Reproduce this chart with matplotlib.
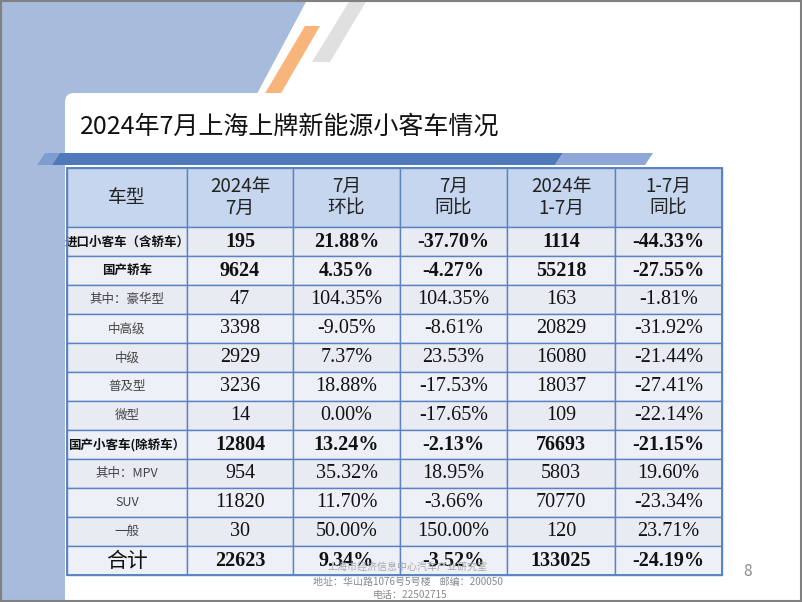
import matplotlib
matplotlib.use("Agg")
import matplotlib.pyplot as plt
from matplotlib.patches import Polygon, Rectangle, FancyBboxPatch

plt.rcParams['font.family'] = ['Noto Sans CJK SC', 'DejaVu Sans']

# table data
title = '2024年7月上海上牌新能源小客车情况'
header = ['车型', '2024年\n7月', '7月\n环比', '7月\n同比', '2024年\n1-7月', '1-7月\n同比']
models = ['进口小客车（含轿车）', '国产轿车', '其中：豪华型', '中高级', '中级', '普及型', '微型',
          '国产小客车(除轿车）', '其中：MPV', 'SUV', '一般', '合计']
jul_2024 = [195, 9624, 47, 3398, 2929, 3236, 14, 12804, 954, 11820, 30, 22623]
jul_mom = [21.88, 4.35, 104.35, -9.05, 7.37, 18.88, 0.00, 13.24, 35.32, 11.70, 50.00, 9.34]
jul_yoy = [-37.70, -4.27, 104.35, -8.61, 23.53, -17.53, -17.65, -2.13, 18.95, -3.66, 150.00, -3.52]
ytd_2024 = [1114, 55218, 163, 20829, 16080, 18037, 109, 76693, 5803, 70770, 120, 133025]
ytd_yoy = [-44.33, -27.55, -1.81, -31.92, -21.44, -27.41, -22.14, -21.15, 19.60, -23.34, 23.71, -24.19]
bold_rows = [0, 1, 7, 11]

footer = ['上海市经济信息中心汽车产业研究室', '地址：华山路1076号5号楼    邮编：200050', '电话：22502715']
page_no = '8'

W, H = 802, 602
fig = plt.figure(figsize=(W / 100, H / 100), dpi=100)
ax = fig.add_axes([0, 0, 1, 1])
ax.set_xlim(0, W)
ax.set_ylim(H, 0)
ax.axis('off')

# slide background decorations
bg_blue = '#A7BBDC'
ax.add_patch(Polygon([(0, 0), (307, 0), (250, 107), (0, 107)], closed=True, fc=bg_blue, ec='none'))
ax.add_patch(Rectangle((0, 0), 65, H, fc=bg_blue, ec='none'))
ax.add_patch(Polygon([(350, 0), (367, 0), (330, 62), (312, 62)], closed=True, fc='#E0E0E0', ec='none'))
ax.add_patch(Polygon([(305, 26), (320, 26), (280, 95), (264, 95)], closed=True, fc='#F8B57B', ec='none'))
ax.add_patch(FancyBboxPatch((65, 93), 800, 600, boxstyle='round,pad=0,rounding_size=9',
                            fc='white', ec='none'))

ax.text(80, 127, title, fontsize=18, va='center', ha='left', color='#111111')

# title underline bar
ax.add_patch(Polygon([(37, 165), (45, 153), (60, 153), (52, 165)], closed=True, fc='#7E9DD0', ec='none'))
ax.add_patch(Polygon([(52, 165), (60, 153), (563, 153), (555, 165)], closed=True, fc='#5079BC', ec='none'))
ax.add_patch(Polygon([(555, 165), (563, 153), (653, 153), (645, 165)], closed=True, fc='#8DA8D6', ec='none'))


def pct(v):
    return f'{v:.2f}%'


rows = [header]
for i in range(len(models)):
    rows.append([models[i], str(jul_2024[i]), pct(jul_mom[i]), pct(jul_yoy[i]),
                 str(ytd_2024[i]), pct(ytd_yoy[i])])

col_w = [120, 106, 107, 107, 108, 107]
left, top, right, bottom = 67, 168, 722, 575
bbox = [left / W, 1 - bottom / H, (right - left) / W, (bottom - top) / H]
tbl = ax.table(cellText=rows, colWidths=[c / sum(col_w) for c in col_w], cellLoc='center', bbox=bbox)
tbl.auto_set_font_size(False)
tbl.set_zorder(3)

grid = '#5B83C3'
for (r, c), cell in tbl.get_celld().items():
    cell.set_edgecolor(grid)
    cell.set_linewidth(1.0)
    txt = cell.get_text()
    if r == 0:
        cell.set_height(cell.get_height() * 2.05)
        cell.set_facecolor('#C6D6EE')
        txt.set_fontsize(13.5)
        txt.set_color('#222222')
        txt.set_linespacing(1.05)
        continue
    i = r - 1
    cell.set_facecolor('#E8EBF2' if i % 2 == 0 else '#EDF0F6')
    bold = i in bold_rows
    if c == 0:
        txt.set_fontfamily(['Noto Sans CJK SC', 'DejaVu Sans'])
        if i == len(models) - 1:
            txt.set_fontsize(15)
            txt.set_color('#111111')
        else:
            txt.set_fontsize(9)
            txt.set_fontweight('bold' if bold else 'normal')
            txt.set_color('#111111' if bold else '#444444')
    else:
        txt.set_fontfamily('Liberation Serif')
        txt.set_fontsize(14.5)
        txt.set_fontweight('bold' if bold else 'normal')
        txt.set_color('#111111')

ax.add_patch(Rectangle((left, top), right - left, bottom - top, fc='none', ec=grid, lw=1.4, zorder=5))

# footer
ax.text(408, 567, footer[0], fontsize=7.2, color='#A8A8A8', ha='center', va='center', zorder=6)
ax.text(408, 582, footer[1], fontsize=7.2, color='#8A8A8A', ha='center', va='center', zorder=6)
ax.text(410, 595, footer[2], fontsize=7.2, color='#8A8A8A', ha='center', va='center', zorder=6)
ax.text(748, 572, page_no, fontsize=11, color='#8A8A8A', ha='center', va='center')

# slide border
ax.add_patch(Rectangle((0.75, 0.75), W - 1.5, H - 1.5, fc='none', ec='#808080', lw=1.5, zorder=7))

fig.savefig('out.png', dpi=100)
